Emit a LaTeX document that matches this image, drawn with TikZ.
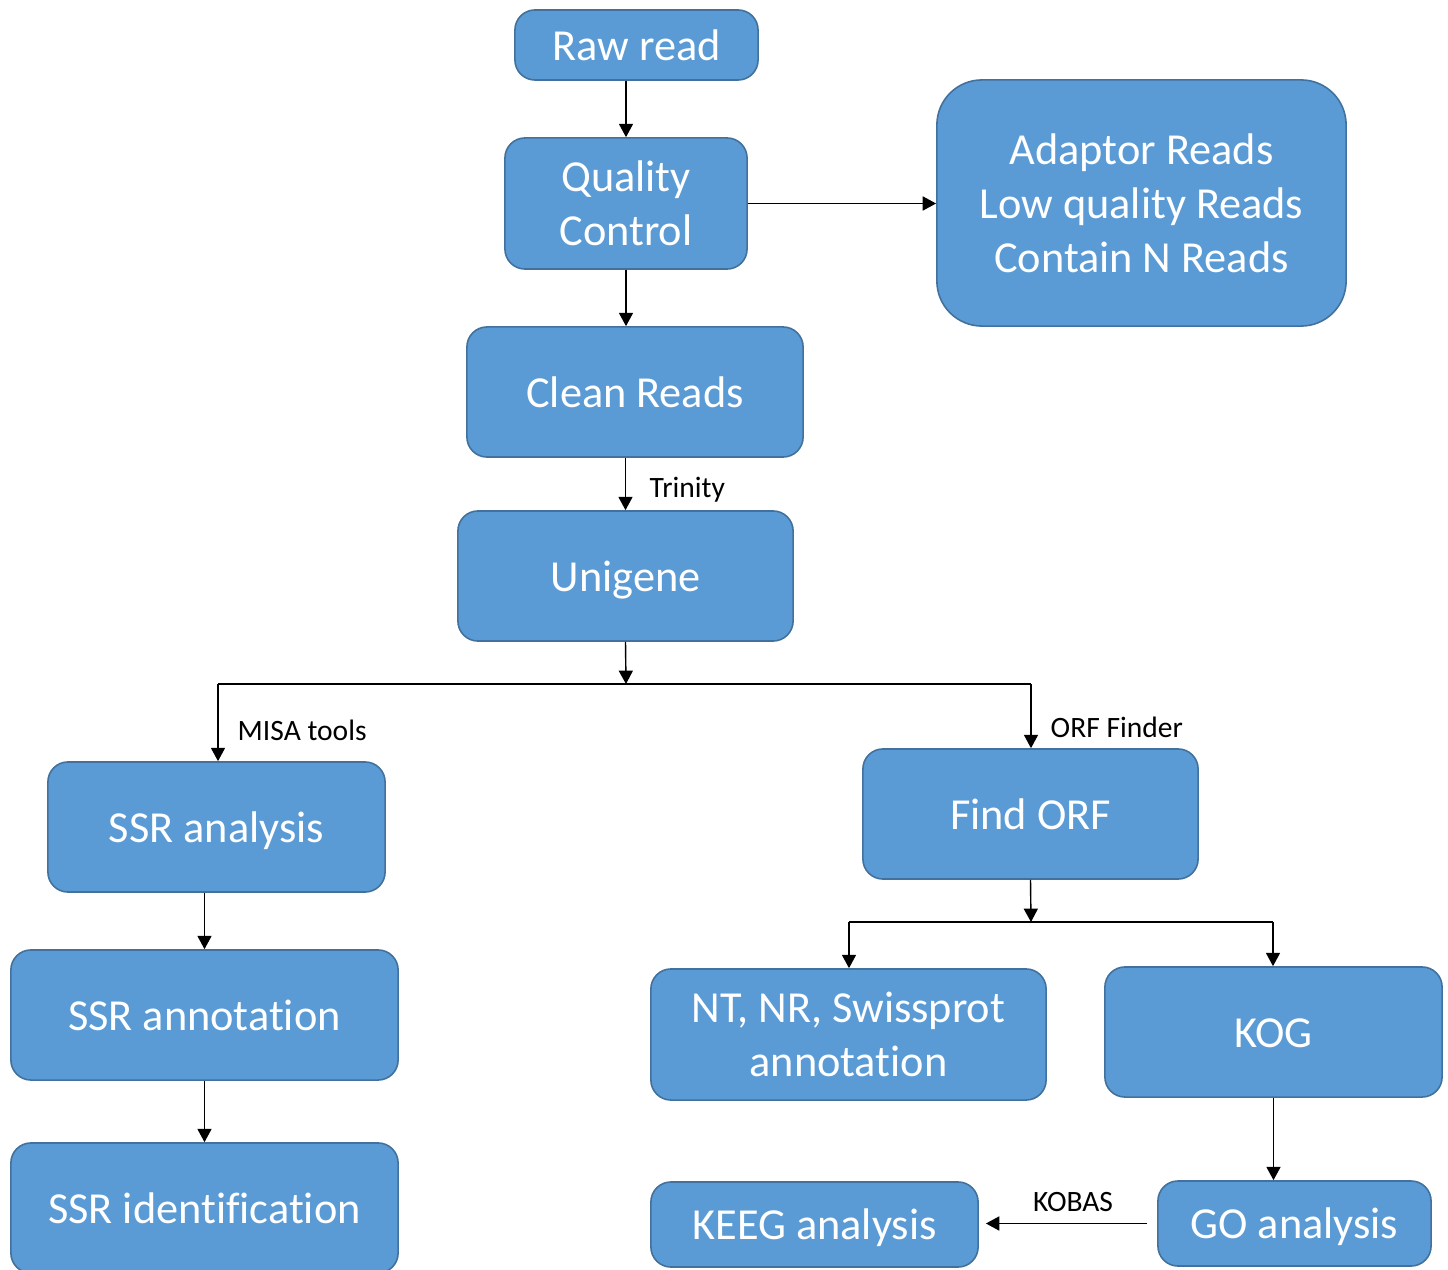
\documentclass[tikz,border=0pt]{standalone}
\usepackage{fontspec}
\setmainfont{Carlito}[Ligatures=NoCommon]
\usepackage{tikz}
\usetikzlibrary{arrows.meta}
\definecolor{boxfill}{HTML}{5B9BD5}
\definecolor{boxline}{HTML}{41719C}

\begin{document}
\begin{tikzpicture}[x=0.01cm,y=-0.01cm,>={Triangle[width=4pt,length=3.8pt]},
	blk/.style={shape=rectangle,draw=boxline,line width=0.45pt,fill=boxfill,
		rounded corners=0.2cm,text=white,align=center,inner sep=0pt,
		font=\fontsize{12.6}{15.4}\selectfont},
	oneline/.style={text height=8.7pt,text depth=0pt},
	lbl/.style={font=\fontsize{8.4}{10}\selectfont,inner sep=0pt,anchor=west},
	line width=0.4pt]
					\clip (0,0) rectangle (1448,1270);
					\node (raw) [blk,oneline,minimum width=2.43cm,minimum height=0.70cm] at (636.5,45) {Raw read};
					\node (qc) [blk,minimum width=2.42cm,minimum height=1.31cm] at (626,203.5) {Quality\\Control};
					\node (junk) [blk,minimum width=4.09cm,minimum height=2.46cm,rounded corners=0.45cm] at (1141.5,203)
						{Adaptor Reads\\Low quality Reads\\Contain N Reads};
					\node (clean) [blk,oneline,minimum width=3.36cm,minimum height=1.30cm] at (635,392) {Clean Reads};
					\node (uni) [blk,oneline,minimum width=3.35cm,minimum height=1.30cm] at (625.5,576) {Unigene};
					\node (ssr) [blk,oneline,minimum width=3.37cm,minimum height=1.30cm] at (216.5,827) {SSR analysis};
					\node (orf) [blk,oneline,minimum width=3.35cm,minimum height=1.30cm] at (1030.5,814) {Find ORF};
					\node (annot) [blk,oneline,minimum width=3.87cm,minimum height=1.30cm] at (204.5,1015) {SSR annotation};
					\node (ident) [blk,oneline,minimum width=3.87cm,minimum height=1.30cm] at (204.5,1208) {SSR identification};
					\node (nt) [blk,minimum width=3.95cm,minimum height=1.31cm] at (848.5,1034.5) {NT, NR, Swissprot\\annotation};
					\node (kog) [blk,oneline,minimum width=3.37cm,minimum height=1.30cm] at (1273.5,1032) {KOG};
					\node (keeg) [blk,oneline,minimum width=3.27cm,minimum height=0.85cm] at (814.5,1224.5) {KEEG analysis};
					\node (go) [blk,oneline,minimum width=2.73cm,minimum height=0.85cm] at (1294.5,1223.5) {GO analysis};

					\coordinate (split) at (626,684);
					\coordinate (split2) at (1031,922);

					\draw[->] (qc.north |- raw.south) -- (qc.north);
					\draw[->] (qc.east) -- (qc.east -| junk.west);
					\draw[->] (qc.south) -- (qc.south |- clean.north);
					\draw[->] (uni.north |- clean.south) -- (uni.north);
					\node (trinity) [lbl] at (649,490) {Trinity};
					\draw[->] (uni.south) -- (split);
					\draw (218,684) coordinate (sl) -- (1031,684) coordinate (sr);
					\draw[->] (sl) -- (sl |- ssr.north);
					\draw[->] (sr) -- (sr |- orf.north);
					\node (misa) [lbl] at (237,730) {MISA tools};
					\node (finder) [lbl] at (1050,727) {ORF Finder};
					\draw[->] (annot.north |- ssr.south) -- (annot.north);
					\draw[->] (annot.south) -- (ident.north);
					\draw[->] (orf.south) -- (split2);
					\draw (849,922) coordinate (tl) -- (1273,922) coordinate (tr);
					\draw[->] (tl) -- (tl |- nt.north);
					\draw[->] (tr) -- (tr |- kog.north);
					\draw[->] (kog.south) -- (kog.south |- go.north);
					\draw[->,shorten <=2.85pt,shorten >=2pt] (go.west) -- (go.west -| keeg.east);
					\node (kobas) [lbl,anchor=center] at (1073,1202) {KOBAS};
				\end{tikzpicture}
\end{document}
